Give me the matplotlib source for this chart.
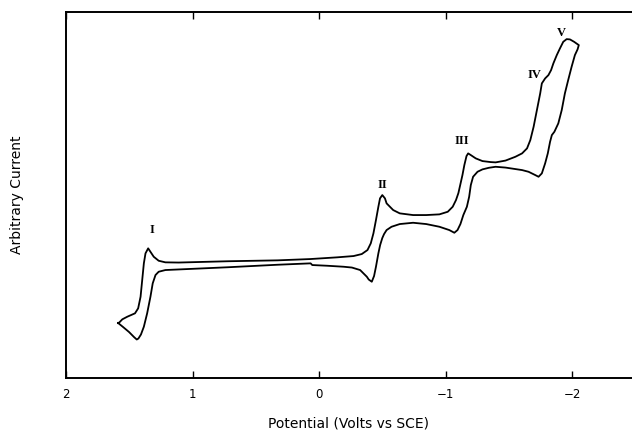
import matplotlib
matplotlib.use("Agg")
import matplotlib.pyplot as plt

# Cyclic voltammogram: potential (V vs SCE) and current (arbitrary units)
# Forward sweep (upper trace), from +1.59 V towards -2.05 V
fwd_E = [1.588, 1.581, 1.555, 1.516, 1.455, 1.430, 1.411, 1.398, 1.385, 1.372,
         1.351, 1.333, 1.307, 1.268, 1.215, 1.111, 0.720, 0.329, 0.070, -0.141,
         -0.271, -0.336, -0.381, -0.407, -0.428, -0.448, -0.467, -0.480, -0.498, -0.519,
         -0.532, -0.584, -0.636, -0.741, -0.845, -0.949, -1.015, -1.054, -1.080, -1.099,
         -1.115, -1.131, -1.146, -1.163, -1.176, -1.197, -1.236, -1.289, -1.354, -1.393,
         -1.471, -1.549, -1.602, -1.641, -1.667, -1.693, -1.719, -1.745, -1.758, -1.784,
         -1.810, -1.831, -1.849, -1.876, -1.901, -1.927, -1.954, -1.980, -2.013, -2.050]
fwd_I = [5.50, 5.53, 5.87, 6.13, 6.47, 6.97, 8.13, 9.80, 11.47, 12.47,
         12.97, 12.63, 12.13, 11.73, 11.57, 11.55, 11.68, 11.77, 11.90, 12.07,
         12.20, 12.40, 12.80, 13.47, 14.47, 15.80, 17.13, 17.97, 18.30, 17.97,
         17.47, 16.80, 16.47, 16.30, 16.30, 16.37, 16.63, 17.13, 17.80, 18.50,
         19.40, 20.30, 21.30, 22.20, 22.47, 22.30, 21.97, 21.70, 21.60, 21.57,
         21.75, 22.13, 22.47, 22.97, 23.80, 25.13, 26.80, 28.47, 29.47, 29.97,
         30.30, 30.80, 31.47, 32.30, 32.97, 33.63, 33.90, 33.87, 33.63, 33.30]

# Reverse sweep (lower trace), back to the starting potential
rev_E = [-2.050, -2.040, -2.019, -1.993, -1.966, -1.940, -1.915, -1.888, -1.857, -1.837,
         -1.823, -1.805, -1.784, -1.758, -1.732, -1.706, -1.653, -1.602, -1.549, -1.471,
         -1.393, -1.340, -1.289, -1.250, -1.215, -1.197, -1.184, -1.166, -1.138, -1.115,
         -1.092, -1.067, -1.027, -0.949, -0.845, -0.741, -0.636, -0.571, -0.532, -0.512,
         -0.498, -0.481, -0.467, -0.448, -0.433, -0.415, -0.391, -0.376, -0.323, -0.258,
         -0.193, -0.063, 0.055, 0.068, 0.329, 0.720, 1.189, 1.215, 1.268, 1.293,
         1.315, 1.333, 1.359, 1.385, 1.408, 1.428, 1.441, 1.463, 1.502, 1.549,
         1.588]
rev_I = [33.30, 32.87, 32.30, 31.13, 29.80, 28.47, 26.80, 25.47, 24.63, 24.30,
         23.63, 22.47, 21.47, 20.47, 20.13, 20.30, 20.63, 20.80, 20.90, 21.05,
         21.13, 21.03, 20.87, 20.63, 20.13, 19.30, 18.13, 17.13, 16.30, 15.40,
         14.80, 14.53, 14.80, 15.13, 15.40, 15.53, 15.40, 15.13, 14.80, 14.40,
         14.00, 13.30, 12.47, 11.13, 10.20, 9.63, 9.85, 10.13, 10.80, 11.05,
         11.13, 11.23, 11.30, 11.47, 11.33, 11.08, 10.82, 10.80, 10.63, 10.30,
         9.47, 8.13, 6.47, 5.13, 4.35, 3.95, 3.85, 4.10, 4.60, 5.10,
         5.50]

# Wave labels
wave_names = ["I", "II", "III", "IV", "V"]
wave_E = [1.32, -0.498, -1.13, -1.70, -1.915]
wave_I = [14.8, 19.3, 23.7, 30.3, 34.5]

xticks = [2, 1, 0, -1, -2]
xtick_labels = ["2", "1", "0", "\u22121", "\u22122"]

fig = plt.figure(figsize=(6.32, 4.33), dpi=100)
ax = fig.add_axes([0.1044, 0.127, 0.8956, 0.845])

E = fwd_E + rev_E
I = fwd_I + rev_I
ax.plot(E, I, color="black", lw=1.3, solid_joinstyle="round")

for name, xe, yi in zip(wave_names, wave_E, wave_I):
    ax.text(xe, yi, name, family="Liberation Serif", fontsize=9, weight="bold",
            ha="center", va="center", color="black")

ax.set_xlim(2, -2.47)
ax.set_ylim(0, 36.6)
ax.set_xticks(xticks)
ax.set_xticklabels(xtick_labels, fontsize=8.5, family="DejaVu Sans")
ax.set_yticks([])
ax.tick_params(axis="x", direction="in", length=5, width=1, top=True, pad=7)
for side in ("left", "bottom", "top"):
    ax.spines[side].set_linewidth(1.4)
ax.spines["right"].set_visible(False)

ax.set_xlabel("Potential (Volts vs SCE)", fontsize=10, family="DejaVu Sans", labelpad=11)
ax.set_ylabel("Arbitrary Current", fontsize=10, family="DejaVu Sans", labelpad=30)

fig.savefig("out.png", dpi=100)
